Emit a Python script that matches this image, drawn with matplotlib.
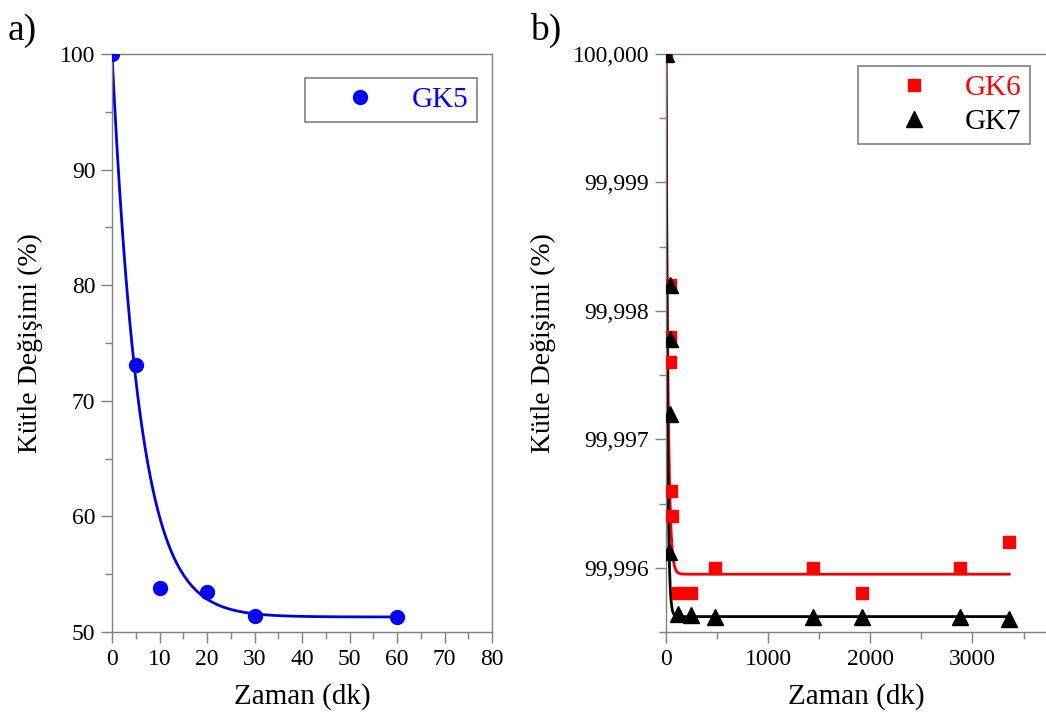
import numpy as np
import matplotlib
matplotlib.use('Agg')
import matplotlib.pyplot as plt
from matplotlib.ticker import MultipleLocator, FuncFormatter

plt.rcParams.update({
    'font.family': 'Liberation Serif',
    'font.size': 17,
    'axes.edgecolor': '#808080',
    'axes.linewidth': 1.0,
    'xtick.color': '#808080',
    'ytick.color': '#808080',
    'xtick.labelcolor': 'black',
    'ytick.labelcolor': 'black',
    'xtick.direction': 'out',
    'ytick.direction': 'out',
})

# ---- panel a: GK5 ----
t_gk5 = [0, 5, 10, 20, 30, 60]
m_gk5 = [100.0, 73.1, 53.8, 53.5, 51.4, 51.3]
# exponential decay fit: y0 + A*exp(-t/tau)
fit_gk5 = dict(y0=51.3, A=48.7, tau=5.8, tmax=60)

# ---- panel b: GK6, GK7 ----
t_gk6 = [0, 35, 40, 40, 45, 55, 120, 240, 480, 1440, 1920, 2880, 3360]
m_gk6 = [100.0, 99.9982, 99.9978, 99.9976, 99.9966, 99.9964, 99.9958,
         99.9958, 99.9960, 99.9960, 99.9958, 99.9960, 99.9962]
t_gk7 = [0, 35, 35, 40, 30, 120, 240, 480, 1440, 1920, 2880, 3360]
m_gk7 = [100.0, 99.9982, 99.99778, 99.9972, 99.99612, 99.99564, 99.99563,
         99.99562, 99.99562, 99.99562, 99.99562, 99.99560]
fit_gk6 = dict(y0=99.99595, A=0.00405, tau=20.0, tmax=3360)
fit_gk7 = dict(y0=99.99562, A=0.00438, tau=14.0, tmax=3360)


def fit_curve(p, n=2000):
    x = np.linspace(0, p['tmax'], n)
    return x, p['y0'] + p['A'] * np.exp(-x / p['tau'])


W, H = 1046, 727
fig = plt.figure(figsize=(W / 100, H / 100), dpi=100)
fig.patch.set_facecolor('white')

# panel a
axa = fig.add_axes([112 / W, (H - 632) / H, 380 / W, 578 / H])
x, y = fit_curve(fit_gk5)
axa.plot(x, y, color='#0000dd', lw=2, zorder=2)
axa.plot(t_gk5, m_gk5, 'o', color='#0000ff', ms=10, label='GK5', zorder=3)
axa.set_xlim(0, 80)
axa.set_ylim(50, 100)
axa.xaxis.set_major_locator(MultipleLocator(10))
axa.xaxis.set_minor_locator(MultipleLocator(5))
axa.yaxis.set_major_locator(MultipleLocator(10))
axa.yaxis.set_minor_locator(MultipleLocator(5))
axa.tick_params(which='major', length=8, width=1, labelsize=17, pad=4)
axa.tick_params(which='minor', length=5, width=1)
axa.set_xlabel('Zaman (dk)', fontsize=21, labelpad=10)
axa.set_ylabel('Kütle Değişimi (%)', fontsize=20, labelpad=12)
leg = axa.legend(loc='upper right', bbox_to_anchor=(0.96, 0.958),
                 borderaxespad=0, fontsize=21, fancybox=False,
                 edgecolor='#606060', handletextpad=0.15, borderpad=0.3,
                 handlelength=3.2)
leg.get_frame().set_linewidth(1.2)
for txt in leg.get_texts():
    txt.set_color('#0000ff')
fig.text(8 / W, 1 - 40 / H, 'a)', fontsize=27)

# panel b
axb = fig.add_axes([666 / W, (H - 632) / H, 380 / W, 578 / H])
x6, y6 = fit_curve(fit_gk6)
x7, y7 = fit_curve(fit_gk7)
axb.plot(x6, y6, color='#ee0000', lw=2, zorder=2)
axb.plot(x7, y7, color='black', lw=2, zorder=2)
axb.plot(t_gk6, m_gk6, 's', color='#ff0000', ms=9, label='GK6', zorder=3)
axb.plot(t_gk7, m_gk7, '^', color='black', ms=11, label='GK7', zorder=4)
axb.set_xlim(0, 3720)
axb.set_ylim(99.9955, 100.0)
axb.spines['right'].set_visible(False)
axb.xaxis.set_major_locator(MultipleLocator(1000))
axb.xaxis.set_minor_locator(MultipleLocator(500))
axb.yaxis.set_major_locator(MultipleLocator(0.001))
axb.yaxis.set_minor_locator(MultipleLocator(0.0005))
axb.yaxis.set_major_formatter(
    FuncFormatter(lambda v, pos: f'{v:.3f}'.replace('.', ',')))
axb.tick_params(which='major', length=8, width=1, labelsize=17, pad=4)
axb.tick_params(which='minor', length=5, width=1)
axb.set_xlabel('Zaman (dk)', fontsize=21, labelpad=10)
axb.set_ylabel('Kütle Değişimi (%)', fontsize=20, labelpad=12)
legb = axb.legend(loc='upper right', bbox_to_anchor=(0.958, 0.979),
                  borderaxespad=0, fontsize=21, fancybox=False,
                  edgecolor='#606060', handletextpad=0.15, borderpad=0.3,
                  handlelength=3.2, labelspacing=0.25)
legb.get_frame().set_linewidth(1.2)
for txt, c in zip(legb.get_texts(), ['#ff0000', 'black']):
    txt.set_color(c)
fig.text(530 / W, 1 - 40 / H, 'b)', fontsize=27)

fig.savefig('out.png', dpi=100)
